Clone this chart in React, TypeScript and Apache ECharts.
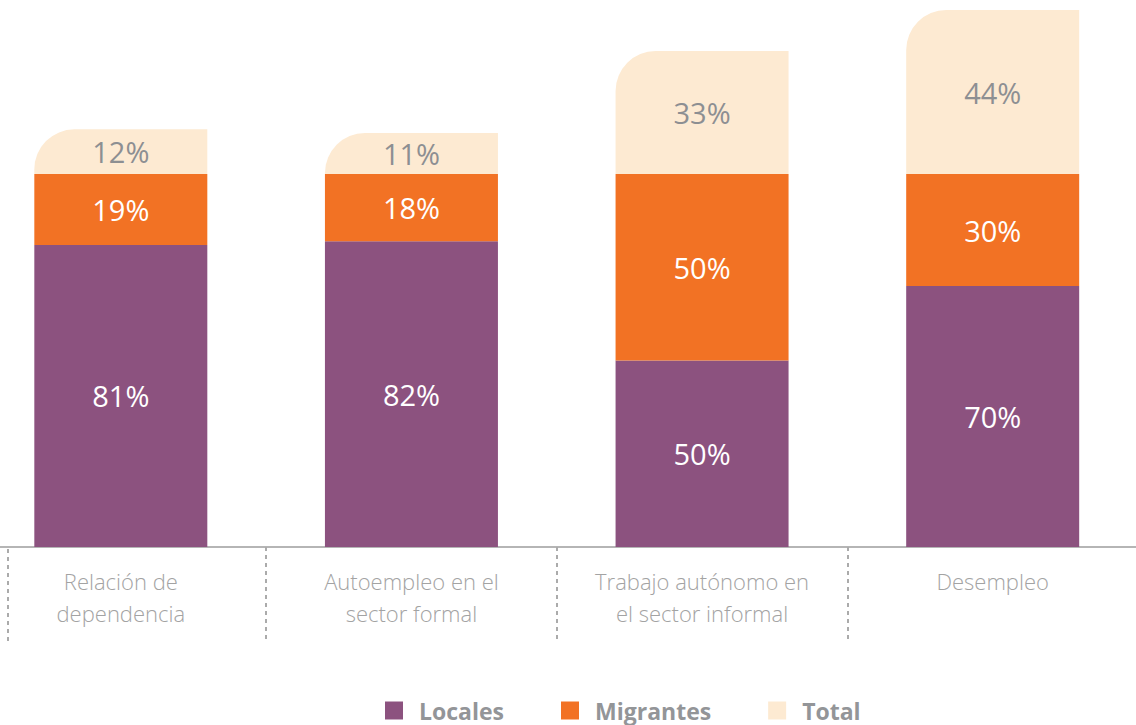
import React, { useEffect, useRef } from "react";
import * as echarts from "echarts";

const categories = [
  "Relación de\ndependencia",
  "Autoempleo en el\nsector formal",
  "Trabajo autónomo en\nel sector informal",
  "Desempleo",
];
const locales = [81, 82, 50, 70];
const migrantes = [19, 18, 50, 30];
const total = [12, 11, 33, 44];

const FONT = "'Open Sans', 'Noto Sans', sans-serif";

export default function App() {
  const ref = useRef<HTMLDivElement>(null);
  useEffect(() => {
    document.body.style.margin = "0";
    const chart = echarts.init(ref.current!, null, { renderer: "svg" });
    const valueLabel = (color: string) => ({
      show: true,
      position: "inside" as const,
      formatter: "{c}%",
      color,
      fontSize: 29,
      fontFamily: FONT,
      fontWeight: 400 as any,
    });
    chart.setOption({
      animation: false,
      textStyle: { fontFamily: FONT },
      grid: { left: -24.5, right: -2, top: 10, bottom: 178, outerBoundsMode: "none", containLabel: false } as any,
      legend: {
        left: 380,
        top: 694,
        icon: "rect",
        itemWidth: 18,
        itemHeight: 18,
        itemGap: 57,
        selectedMode: false,
        textStyle: {
          fontSize: 23,
          fontWeight: "bold",
          color: "#939598",
          fontFamily: FONT,
          padding: [0, 0, 0, 11],
        },
        data: ["Locales", "Migrantes", "Total"],
      },
      xAxis: {
        type: "category",
        data: categories,
        axisLine: { lineStyle: { color: "#b5b5b5", width: 2 } },
        axisTick: {
          show: true,
          length: 92,
          lineStyle: { color: "#ababab", width: 2, type: [4, 4] },
        },
        axisLabel: {
          margin: 18,
          fontSize: 22,
          lineHeight: 32,
          color: "#a3a3a3",
          fontWeight: 300,
          fontFamily: FONT,
          interval: 0,
        },
      },
      yAxis: { type: "value", min: 0, max: 144, show: false, splitLine: { show: false } },
      graphic: [
        {
          type: "line",
          shape: { x1: 8, y1: 549, x2: 8, y2: 641 },
          style: { stroke: "#ababab", lineWidth: 2, lineDash: [4, 4] },
        },
      ],
      series: [
        {
          name: "Locales",
          type: "bar",
          stack: "a",
          barWidth: 173,
          data: locales,
          itemStyle: { color: "#8c527f" },
          label: valueLabel("#ffffff"),
        },
        {
          name: "Migrantes",
          type: "bar",
          stack: "a",
          barWidth: 173,
          data: migrantes,
          itemStyle: { color: "#f27224" },
          label: valueLabel("#ffffff"),
        },
        {
          name: "Total",
          type: "bar",
          stack: "a",
          barWidth: 173,
          data: total,
          itemStyle: { color: "#fdead2", borderRadius: [40, 0, 0, 0] },
          label: valueLabel("#8d8f92"),
        },
      ],
    });
    return () => chart.dispose();
  }, []);
  return <div ref={ref} style={{ width: 1136, height: 725 }} />;
}
